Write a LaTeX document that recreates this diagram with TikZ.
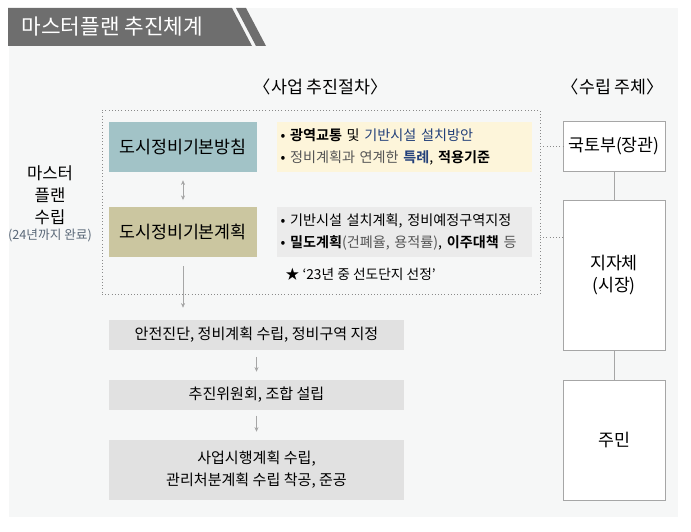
\documentclass[tikz,border=0pt]{standalone}
\usepackage{fontspec}
\setmainfont{Noto Sans CJK KR}[BoldFont={Noto Sans CJK KR Bold}]
\usepackage{tikz}
\usetikzlibrary{arrows.meta, positioning}
\tikzset{>={Stealth[length=3.5pt,width=3pt]}}
\definecolor{titlegray}{HTML}{6E6E6E}
\definecolor{bggray}{HTML}{F6F7F7}
\definecolor{tealbox}{HTML}{A2C3C7}
\definecolor{olivebox}{HTML}{CBC6A0}
\definecolor{yellowbox}{HTML}{FDF5DA}
\definecolor{infogray}{HTML}{EBEBEB}
\definecolor{stepgray}{HTML}{E1E1E1}
\definecolor{linegray}{HTML}{A6A6A6}
\definecolor{dotgray}{HTML}{8A8A8A}
\definecolor{navy}{HTML}{23407A}
\definecolor{softtext}{HTML}{555555}
\definecolor{notegray}{HTML}{5A6878}

\begin{document}
\begin{tikzpicture}[x=0.75pt, y=-0.75pt,
	mainbox/.style={minimum width=111pt, minimum height=37.5pt, inner sep=0pt, font=\fontsize{13}{15}\selectfont},
	infobox/.style={text width=186pt, inner xsep=2.6pt, inner ysep=0pt, minimum height=37.5pt, align=left, font=\fontsize{10.6}{16}\selectfont},
	stepbox/.style={fill=stepgray, minimum width=221.25pt, inner sep=0pt, align=center, font=\fontsize{11.3}{16.5}\selectfont},
	actorbox/.style={draw=linegray, fill=white, minimum width=76.5pt, inner sep=0pt, align=center, font=\fontsize{13}{16.5}\selectfont},
	head/.style={font=\fontsize{13}{15}\selectfont},
	flow/.style={->, draw=linegray, thin},
	dotline/.style={draw=dotgray, dotted, thin}]
	\useasboundingbox (0,0) rectangle (691,531);
	% background and title bar
	\fill[bggray] (9,8) rectangle (678,517);
	\fill[titlegray] (8,8) -- (232,8) -- (252,46) -- (8,46) -- cycle;
	\fill[titlegray] (236,8) -- (246,8) -- (266,46) -- (256,46) -- cycle;
	\node[anchor=west, text=white, font=\fontsize{16}{18}\selectfont] (title) at (17,27) {마스터플랜 추진체계};
	% headers
	\node[head] (prochead) at (321,87) {〈사업 추진절차〉};
	\node[head] (actorhead) at (613,87) {〈수립 주체〉};
	% left label
	\node[font=\fontsize{12.5}{16.5}\selectfont, align=center] (master) at (50,195) {마스터\\플랜\\수립};
	\node[font=\fontsize{9.5}{11}\selectfont, text=notegray] (done) at (50,236) {(24년까지 완료)};
	% dotted frame
	\node[dotline, draw, minimum width=328.5pt, minimum height=138pt, inner sep=0pt] (stage) at (321,202) {};
	\node[mainbox, fill=tealbox] (policy) at (183,147) {도시정비기본방침};
	\node[mainbox, fill=olivebox] (plan) at (183,232) {도시정비기본계획};
	\node[infobox, fill=yellowbox] (policyinfo) at (404.5,147) {• \textbf{광역교통} 및 \textcolor{navy}{기반시설 설치방안}\\
		• \textcolor{softtext}{정비계획과 연계한} \textbf{\textcolor{navy}{특례}}, \textbf{적용기준}};
	\node[infobox, fill=infogray] (planinfo) at (404.5,232) {• 기반시설 설치계획, 정비예정구역지정\\
		\mbox{• \textbf{밀도계획}\textcolor{softtext}{(건폐율, 용적률)}, \textbf{이주대책} \textcolor{softtext}{등}}};
	\node[anchor=west, font=\fontsize{10.3}{12}\selectfont] (pilot) at (281,274) {★ ‘23년 중 선도단지 선정’};
	\draw[<->, draw=linegray, shorten <=6pt, shorten >=5pt] (policy.south) -- (plan.north);
	% procedure steps
	\node[stepbox, minimum height=22.5pt] (step1) at (256.5,335) {안전진단, 정비계획 수립, 정비구역 지정};
	\node[stepbox, minimum height=22.5pt] (step2) at (256.5,395) {추진위원회, 조합 설립};
	\node[stepbox, minimum height=45pt] (step3) at (256.5,470) {사업시행계획 수립,\\관리처분계획 수립 착공, 준공};
	\draw[flow, shorten <=6.75pt, shorten >=9pt] (plan.south) -- (plan.south |- step1.north);
	\draw[flow, shorten <=5pt, shorten >=6pt] (step1.south) -- (step2.north);
	\draw[flow, shorten <=4pt, shorten >=6pt] (step2.south) -- (step3.north);
	% actors
	\node[actorbox, minimum height=37.5pt] (gov) at (614,146) {국토부(장관)};
	\node[actorbox, minimum height=112.5pt] (local) at (614,275) {지자체\\(시장)};
	\node[actorbox, minimum height=90pt] (resident) at (614,440) {주민};
	\draw[linegray] (gov) -- (local);
	\draw[linegray] (local) -- (resident);
	\coordinate (tolocal) at (540,237);
	\draw[dotline] (stage.east |- gov) -- (gov.west);
	\draw[dotline] (tolocal) -- (tolocal -| local.west);
\end{tikzpicture}
\end{document}
